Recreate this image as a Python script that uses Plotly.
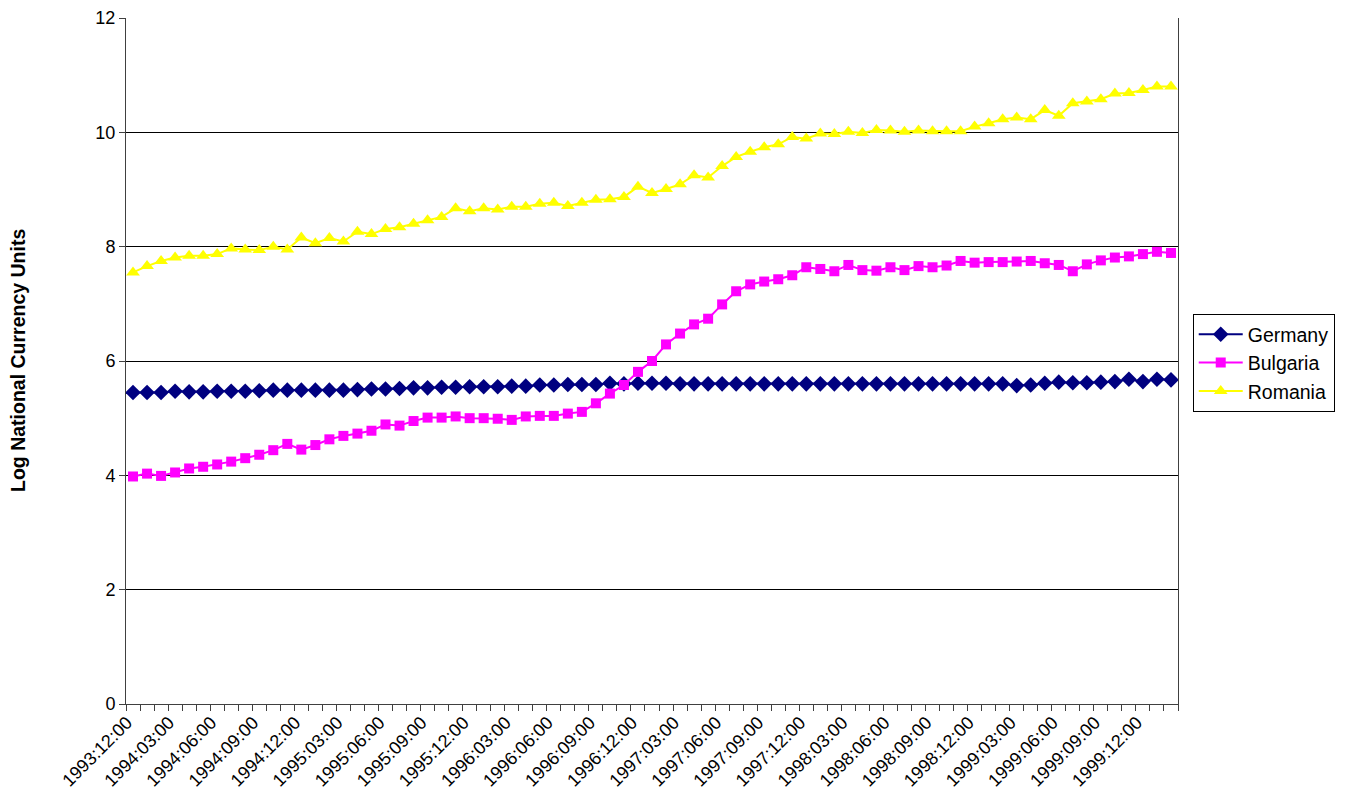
import plotly.graph_objects as go

months = [f"{y}:{m:02d}:00" for y in range(1993, 2001) for m in range(1, 13)]
categories = months[months.index("1993:12:00"):months.index("2000:02:00") + 1]

tick_labels = ["1993:12:00", "1994:03:00", "1994:06:00", "1994:09:00", "1994:12:00",
               "1995:03:00", "1995:06:00", "1995:09:00", "1995:12:00", "1996:03:00",
               "1996:06:00", "1996:09:00", "1996:12:00", "1997:03:00", "1997:06:00",
               "1997:09:00", "1997:12:00", "1998:03:00", "1998:06:00", "1998:09:00",
               "1998:12:00", "1999:03:00", "1999:06:00", "1999:09:00", "1999:12:00"]

germany = [5.45, 5.45, 5.45, 5.47, 5.46, 5.46, 5.47, 5.47, 5.47, 5.48,
           5.49, 5.49, 5.49, 5.49, 5.49, 5.49, 5.50, 5.51, 5.51, 5.52,
           5.53, 5.53, 5.54, 5.54, 5.55, 5.55, 5.55, 5.56, 5.56, 5.58,
           5.58, 5.59, 5.59, 5.59, 5.61, 5.60, 5.61, 5.61, 5.61, 5.60,
           5.60, 5.60, 5.60, 5.60, 5.60, 5.60, 5.60, 5.60, 5.60, 5.60,
           5.60, 5.60, 5.60, 5.60, 5.60, 5.60, 5.60, 5.60, 5.60, 5.60,
           5.60, 5.60, 5.60, 5.57, 5.58, 5.61, 5.63, 5.62, 5.62, 5.63,
           5.64, 5.68, 5.64, 5.68, 5.67]

bulgaria = [3.98, 4.03, 3.99, 4.05, 4.12, 4.15, 4.19, 4.24, 4.30, 4.36,
            4.44, 4.55, 4.45, 4.53, 4.63, 4.69, 4.73, 4.78, 4.89, 4.87,
            4.95, 5.01, 5.01, 5.03, 5.00, 5.00, 4.99, 4.97, 5.03, 5.04,
            5.04, 5.08, 5.11, 5.26, 5.43, 5.58, 5.81, 6.00, 6.29, 6.48,
            6.64, 6.74, 6.99, 7.22, 7.34, 7.39, 7.43, 7.50, 7.64, 7.61,
            7.57, 7.68, 7.59, 7.58, 7.64, 7.59, 7.66, 7.64, 7.67, 7.75,
            7.72, 7.73, 7.73, 7.74, 7.75, 7.71, 7.68, 7.57, 7.69, 7.76,
            7.81, 7.83, 7.87, 7.91, 7.89]

romania = [7.55, 7.66, 7.75, 7.81, 7.84, 7.84, 7.87, 7.97, 7.95, 7.94,
           8.00, 7.95, 8.16, 8.06, 8.15, 8.09, 8.26, 8.22, 8.31, 8.34,
           8.40, 8.46, 8.52, 8.67, 8.62, 8.67, 8.65, 8.70, 8.70, 8.75,
           8.77, 8.71, 8.77, 8.82, 8.83, 8.87, 9.05, 8.94, 9.01, 9.09,
           9.25, 9.21, 9.41, 9.57, 9.66, 9.74, 9.79, 9.92, 9.89, 9.98,
           9.97, 10.01, 9.99, 10.04, 10.03, 10.01, 10.03, 10.02, 10.02, 10.02,
           10.10, 10.16, 10.23, 10.26, 10.23, 10.39, 10.29, 10.51, 10.54, 10.58,
           10.68, 10.69, 10.74, 10.80, 10.80]

FONT = "Arial, Liberation Sans, sans-serif"

fig = go.Figure()
fig.add_trace(go.Scatter(x=categories, y=germany, name="Germany", mode="lines+markers",
                         line=dict(color="#000080", width=2),
                         marker=dict(symbol="diamond", size=12, color="#000080")))
fig.add_trace(go.Scatter(x=categories, y=bulgaria, name="Bulgaria", mode="lines+markers",
                         line=dict(color="#FF00FF", width=2),
                         marker=dict(symbol="square", size=10, color="#FF00FF")))
fig.add_trace(go.Scatter(x=categories, y=romania, name="Romania", mode="lines+markers",
                         line=dict(color="#FFFF00", width=2),
                         marker=dict(symbol="triangle-up", size=12, color="#FFFF00")))

ticktext = [c if c in tick_labels else "" for c in categories]

# page body has an 8px margin, so the figure is offset by (8, 8)
fig.update_layout(
    width=1349, height=807,
    margin=dict(l=118, r=179, t=10, b=111, autoexpand=False),
    paper_bgcolor="white", plot_bgcolor="white",
    font=dict(family=FONT, size=18, color="black"),
    showlegend=True,
    legend=dict(x=1.014, y=0.497, xanchor="left", yanchor="middle",
                bordercolor="black", borderwidth=1, bgcolor="white",
                font=dict(size=19.5, family=FONT), itemwidth=44,
                tracegroupgap=0),
    xaxis=dict(type="category", categoryorder="array", categoryarray=categories,
               tickmode="array", tickvals=categories, ticktext=ticktext,
               tickson="boundaries", ticks="outside", ticklen=6, tickcolor="#404040",
               tickangle=-45, showgrid=False, showline=True, linecolor="#404040",
               linewidth=1, mirror=False, range=[-0.5, len(categories) - 0.5],
               ticklabelshift=-6,
               tickfont=dict(size=18, family=FONT)),
    yaxis=dict(range=[0, 12], dtick=2, tick0=0, ticks="outside", ticklen=6,
               tickcolor="#404040", showgrid=True, gridcolor="black", gridwidth=1,
               showline=True, linecolor="#404040", linewidth=1, mirror=True,
               zeroline=False, tickfont=dict(size=18, family=FONT)),
    annotations=[dict(text="<b>Log National Currency Units</b>", textangle=-90,
                      xref="paper", yref="paper", x=(18 - 126) / 1052, y=0.5,
                      xanchor="center", yanchor="middle", showarrow=False,
                      font=dict(size=19.5, family=FONT, color="black"))],
)

fig.write_html("out.html")
